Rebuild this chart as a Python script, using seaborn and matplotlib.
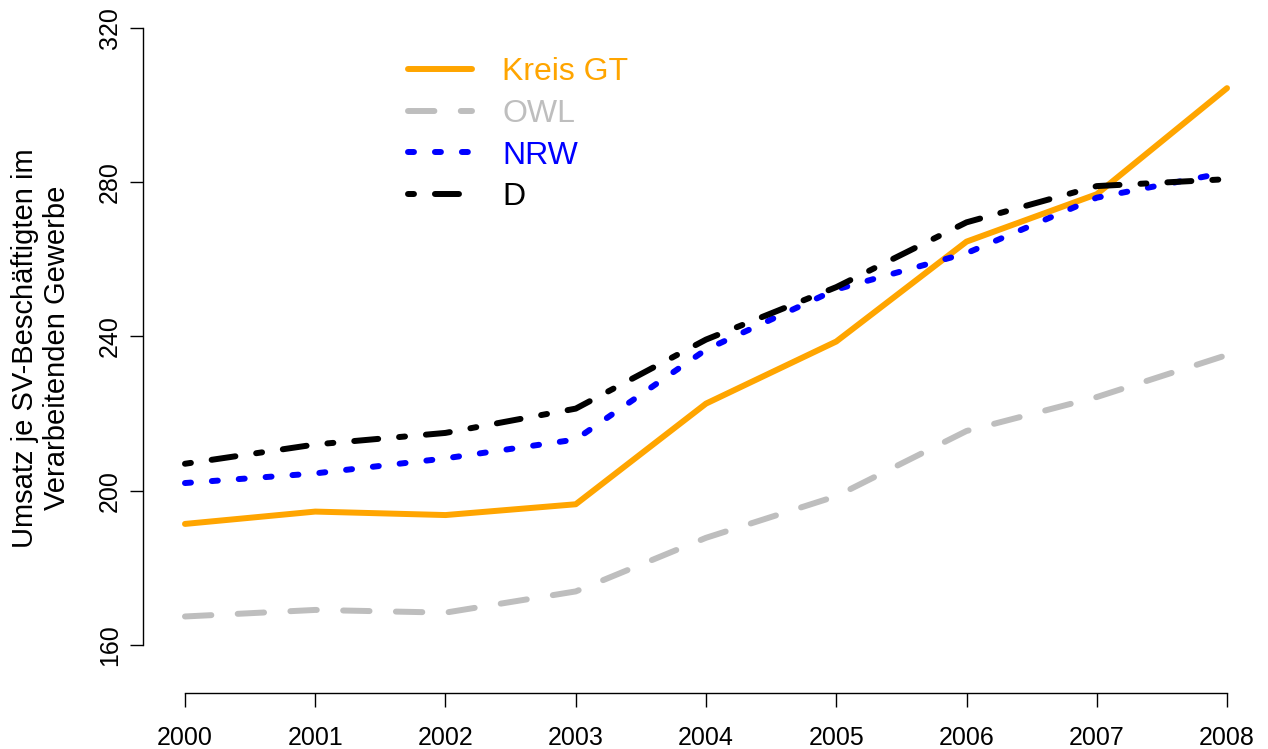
import pandas as pd
import seaborn as sns
import matplotlib.pyplot as plt
from matplotlib.lines import Line2D

# data
years = [2000, 2001, 2002, 2003, 2004, 2005, 2006, 2007, 2008]
kreis_gt = [191.4, 194.6, 193.7, 196.5, 222.6, 238.7, 264.6, 276.9, 304.4]
owl = [167.4, 169.1, 168.4, 173.9, 187.8, 198.6, 215.5, 224.3, 235.2]
nrw = [202.0, 204.5, 208.4, 213.3, 236.6, 252.2, 261.6, 276.0, 282.6]
d = [207.0, 212.0, 215.0, 221.3, 239.2, 252.8, 269.6, 279.0, 280.8]

series_names = ["Kreis GT", "OWL", "NRW", "D"]
series_values = [kreis_gt, owl, nrw, d]
y_ticks = [160, 200, 240, 280, 320]
y_label = "Umsatz je SV-Beschäftigten im\nVerarbeitenden Gewerbe"

sns.set_style("ticks", {"text.color": "black", "axes.edgecolor": "black",
                        "xtick.color": "black", "ytick.color": "black",
                        "axes.labelcolor": "black"})
plt.rcParams['font.family'] = ['Liberation Sans', 'DejaVu Sans']
plt.rcParams['lines.scale_dashes'] = False

# R-like line styles (points)
colors = {"Kreis GT": "#FFA500", "OWL": "#BEBEBE", "NRW": "#0000FF", "D": "#000000"}
styles = {
    "Kreis GT": "-",
    "OWL": (0, (19, 19)),
    "NRW": (0, (4.3, 15.1)),
    "D": (0, (4.3, 15.1, 17.3, 15.1)),
}
LW = 4.3

W, H = 1268, 749
fig = plt.figure(figsize=(W / 100, H / 100), dpi=100)
ax = fig.add_axes([143.3 / W, (H - 669.7) / H, (1268.7 - 143.3) / W, (669.7 - 3.3) / H])

for name, vals in zip(series_names, series_values):
    df = pd.DataFrame({"year": years, "value": vals})
    sns.lineplot(data=df, x="year", y="value", ax=ax, color=colors[name],
                 linestyle=styles[name], linewidth=LW,
                 solid_capstyle="round", dash_capstyle="round")

ax.set_xlim(2000 - 0.32, 2008 + 0.32)
ax.set_ylim(153.6, 326.4)
ax.set_xticks(years)
ax.set_yticks(y_ticks)
ax.set_xticklabels([str(y) for y in years])
ax.set_yticklabels([str(v) for v in y_ticks], rotation=90, va="center")
ax.set_xlabel("")
ax.set_ylabel("")

for s in ["top", "right"]:
    ax.spines[s].set_visible(False)
ax.spines["bottom"].set_position(("outward", 16.6))
ax.spines["bottom"].set_bounds(2000, 2008)
ax.spines["left"].set_bounds(160, 320)
for s in ["bottom", "left"]:
    ax.spines[s].set_linewidth(1.0)
    ax.spines[s].set_color("black")

ax.tick_params(axis="x", length=10, width=1.0, labelsize=18, pad=14, colors="black")
ax.tick_params(axis="y", length=9.4, width=1.0, labelsize=18, pad=6, colors="black")

fig.text(41 / W, 1 - 348 / H, y_label, rotation=90, ha="center", va="center",
         multialignment="center", fontsize=21, color="black")

handles = [Line2D([], [], color=colors[n], linestyle=styles[n], linewidth=LW,
                  solid_capstyle="round", dash_capstyle="round") for n in series_names]
ax.legend(handles, series_names, loc="upper left",
          bbox_to_anchor=(408 / W, 1 - 57 / H), bbox_transform=fig.transFigure,
          frameon=False, fontsize=23, handlelength=2.0, handletextpad=0.95,
          labelspacing=0.37, borderpad=0, borderaxespad=0, labelcolor="linecolor")

fig.savefig("out.png", dpi=100)
